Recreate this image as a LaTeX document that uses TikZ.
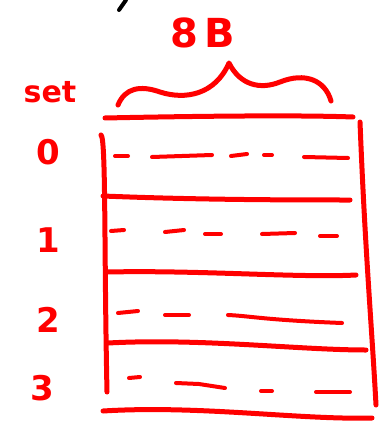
\documentclass[tikz,border=0pt]{standalone}
\usepackage{fontspec}
\setmainfont{DejaVu Sans}
\begin{document}
\begin{tikzpicture}[x=1pt,y=-1pt,
  ink/.style={draw=red,line width=5pt,line cap=round,line join=round},
  dsh/.style={draw=red,line width=4pt,line cap=round},
  lbl/.style={text=red,inner sep=0pt,font=\bfseries\fontsize{34}{34}\selectfont}]
\useasboundingbox (0,0) rectangle (378,422);
% black stroke at top
\draw[black,line width=4pt,line cap=round] (126,0) -- (119,10);
% labels
\node[lbl,font=\bfseries\fontsize{40}{40}\selectfont] (size) at (203,33) {8\,B};
\node[lbl,font=\bfseries\fontsize{30}{30}\selectfont] (setlbl) at (50,92) {set};
\node[lbl] (s0) at (48,152) {0};
\node[lbl] (s1) at (48,240) {1};
\node[lbl] (s2) at (48,320) {2};
\node[lbl] (s3) at (42,388) {3};
% brace
\draw[ink] (118,105) .. controls (125,88) and (140,85) .. (160,92)
  .. controls (185,100) and (215,95) .. (229,63)
  .. controls (240,85) and (260,90) .. (280,82)
  .. controls (305,72) and (325,80) .. (331,101);
% frame
\draw[ink] (105,118) .. controls (200,116) and (300,115) .. (353,117);
\draw[ink] (101,135) .. controls (106,138) and (104,250) .. (107,392);
\draw[ink] (360,122) .. controls (365,250) and (372,330) .. (376,405);
% row separators
\draw[ink] (103,196) .. controls (200,200) and (300,200) .. (350,200);
\draw[ink] (107,272) .. controls (200,270) and (300,278) .. (356,275);
\draw[ink] (108,343) .. controls (200,338) and (300,350) .. (366,350);
\draw[ink] (103,411) .. controls (200,405) and (300,420) .. (372,418);
% row 0 dashes
\draw[dsh] (115,156) -- (128,156);
\draw[dsh] (152,157) -- (212,155);
\draw[dsh] (231,156) -- (247,154);
\draw[dsh] (264,155) -- (272,155);
\draw[dsh] (304,157) -- (348,158);
% row 1 dashes
\draw[dsh] (111,231) -- (124,230);
\draw[dsh] (165,232) -- (184,230);
\draw[dsh] (205,234) -- (221,234);
\draw[dsh] (262,234) -- (295,233);
\draw[dsh] (320,236) -- (337,236);
% row 2 dashes
\draw[dsh] (118,313) -- (138,311);
\draw[dsh] (165,315) -- (189,315);
\draw[dsh] (228,315) .. controls (250,316) and (265,320) .. (342,323);
% row 3 dashes
\draw[dsh] (129,378) -- (140,377);
\draw[dsh] (176,383) -- (199,384) -- (225,388);
\draw[dsh] (261,391) -- (272,391);
\draw[dsh] (316,392) -- (350,392);
\end{tikzpicture}
\end{document}
